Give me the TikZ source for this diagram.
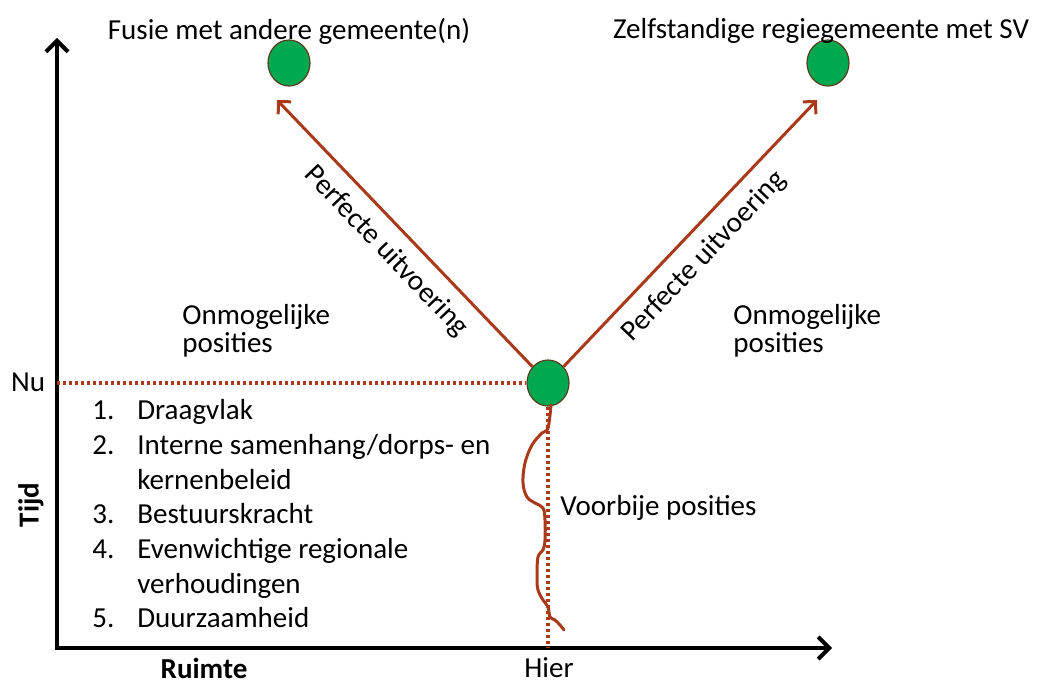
\documentclass[tikz,border=0pt]{standalone}
\usepackage{fontspec}
\setmainfont{Carlito}
\usepackage{tikz}
\usetikzlibrary{arrows.meta}
\usetikzlibrary{shapes.geometric}
\definecolor{roest}{RGB}{168,58,26}
\definecolor{groen}{RGB}{0,168,80}
\definecolor{rand}{RGB}{90,60,30}
\tikzset{every picture/.style={line width=0.75pt}}
\tikzset{
  as/.style={line width=4pt, -{Straight Barb[length=11pt, width=22pt, line width=4pt]}},
  pad/.style={draw=roest, line width=3pt, -{Straight Barb[length=9pt, width=18pt, line width=3pt]}},
  stippel/.style={draw=roest, line width=3.5pt, dash pattern=on 3pt off 3pt},
  kronkel/.style={draw=roest, line width=3pt, line cap=round, line join=round},
  punt/.style={ellipse, draw=rand, line width=1.2pt, fill=groen, minimum width=42pt, minimum height=46pt, inner sep=0pt},
  lbl/.style={font=\fontsize{29}{28}\selectfont, inner sep=0pt},
}

\begin{document}
\begin{tikzpicture}[x=1pt,y=-1pt]
      \useasboundingbox (0,0) rectangle (1039,684);
      % assen
      \coordinate (O) at (57,648);
      \coordinate (ytop) at (57,38);
      \coordinate (xend) at (832,648);
      \draw [as] ([yshift=2pt]O) -- (ytop);
      \draw [as] ([xshift=-2pt]O) -- (xend);
      % posities
      \node [punt] (nu) at (548,383) {};
      \node [punt] (fusie) at (289,63) {};
      \node [punt] (zelf) at (828,63) {};
      \coordinate (pijlL) at (277,100);
      \coordinate (pijlR) at (817,100);
      \draw [stippel] (O |- nu) -- (nu.west);
      \draw [stippel] (nu.south) -- (nu.south |- O);
      \draw [pad] (nu) -- node [lbl, sloped, below=12pt, pos=0.5] {Perfecte uitvoering} (pijlL);
      \draw [pad] (nu) -- node [lbl, sloped, below=12pt, pos=0.48] {Perfecte uitvoering} (pijlR);
      \draw [kronkel] plot [smooth, tension=0.6] coordinates {(551,405) (548,428) (542,433) (532,445) (525,463)
            (523,483) (527,497) (535,503) (543,508) (545,520) (545,540) (543,550) (538,557) (537,577)
            (538,590) (543,600) (548,607) (550,617) (555,620) (560,625) (564,630)};
      % teksten
      \node [lbl] (tfusie) at (289,31) {Fusie met andere gemeente(n)};
      \node [lbl] (tzelf) at (821,31) {Zelfstandige regiegemeente met SV};
      \node [lbl, anchor=west, align=left] (onmL) at (182,331) {Onmogelijke\\posities};
      \node [lbl, anchor=west, align=left] (onmR) at (733,331) {Onmogelijke\\posities};
      \node [lbl] (tnu) at (28,382) {Nu};
      \node [lbl] (thier) at (549,668) {Hier};
      \node [lbl, font=\fontsize{29}{28}\selectfont\bfseries] (truimte) at (204,668) {Ruimte};
      \node [lbl, font=\fontsize{29}{28}\selectfont\bfseries, rotate=90] (ttijd) at (31,505) {Tijd};
      \node [lbl, anchor=west] (tvoorbij) at (560,508) {Voorbije posities};
      \node [lbl, anchor=north west, font=\fontsize{29}{34.7}\selectfont] (lijst) at (92,395)
            {\begin{tabular}{@{}p{45pt}@{}l@{}}
            1. & Draagvlak\\
            2. & Interne samenhang/dorps- en\\
               & kernenbeleid\\
            3. & Bestuurskracht\\
            4. & Evenwichtige regionale\\
               & verhoudingen\\
            5. & Duurzaamheid
            \end{tabular}};
\end{tikzpicture}
\end{document}
